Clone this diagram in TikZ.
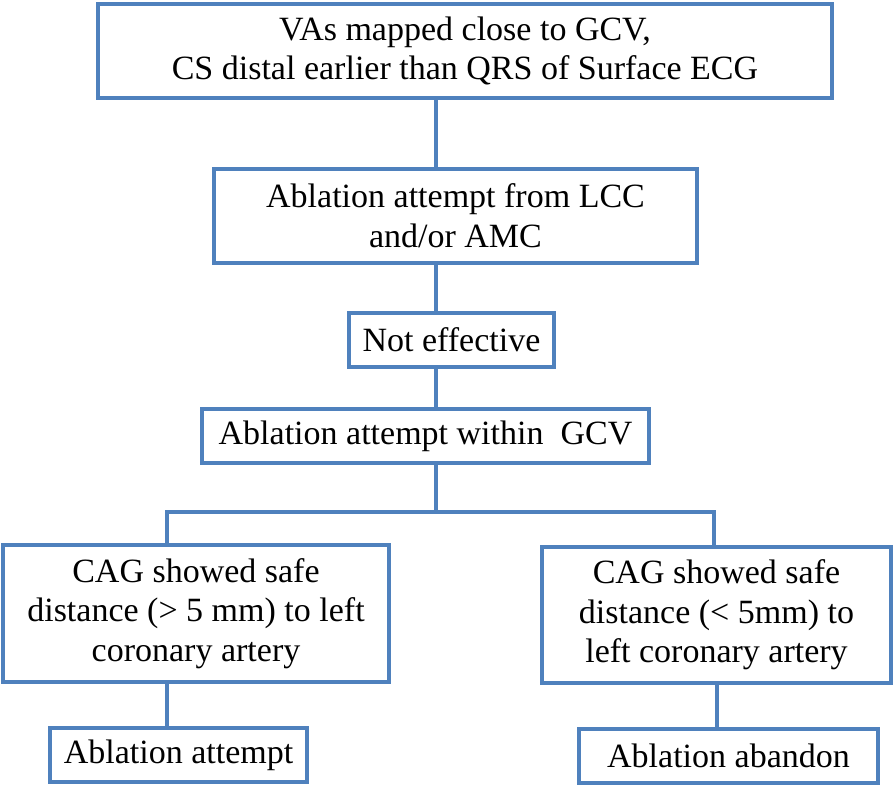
\documentclass[tikz,border=0pt]{standalone}
\usepackage{fontspec}
\setmainfont{Liberation Serif}
\definecolor{boxblue}{RGB}{79,129,189}
\begin{document}
\begin{tikzpicture}[x=1pt,y=-1pt,
  fbox/.style={draw=boxblue, line width=4pt, fill=white, inner sep=0pt, align=center,
    font=\fontsize{34}{39.5}\selectfont},
  link/.style={draw=boxblue, line width=4pt}]
\useasboundingbox (0,0) rectangle (894,788);
\node[fbox, minimum width=734pt, minimum height=94pt] (b1) at (465,51)
  {VAs mapped close to GCV,\\CS distal earlier than QRS of Surface ECG};
\node[fbox, minimum width=483pt, minimum height=94pt] (b2) at (455.5,215.5)
  {Ablation attempt from LCC\\and/or AMC};
\node[fbox, minimum width=205pt, minimum height=54pt] (b3) at (451.5,340)
  {Not effective};
\node[fbox, minimum width=447pt, minimum height=54pt] (b4) at (425.5,436)
  {Ablation attempt within\ \ GCV};
\node[fbox, minimum width=386pt, minimum height=137pt] (b5) at (196,613.5)
  {CAG showed safe\\distance (> 5 mm) to left\\coronary artery};
\node[fbox, minimum width=349pt, minimum height=136pt] (b6) at (716.5,615)
  {CAG showed safe\\distance (< 5mm) to\\left coronary artery};
\node[fbox, minimum width=257pt, minimum height=54pt] (b7) at (178.5,755)
  {Ablation attempt};
\node[fbox, minimum width=299pt, minimum height=54pt] (b8) at (728.5,756)
  {Ablation abandon};
\coordinate (cx) at (436,0);
\coordinate (lx) at (167,0);
\coordinate (rx) at (714,0);
\coordinate (rx2) at (717,0);
\coordinate (by) at (0,512);
\draw[link] (b1.south -| cx) -- (b2.north -| cx);
\draw[link] (b2.south -| cx) -- (b3.north -| cx);
\draw[link] (b3.south -| cx) -- (b4.north -| cx);
\draw[link] (b4.south -| cx) -- (cx |- by);
\draw[link] (b5.north -| lx) -- (lx |- by) -- (rx |- by) -- (b6.north -| rx);
\draw[link] (b5.south -| lx) -- (b7.north -| lx);
\draw[link] (b6.south -| rx2) -- (b8.north -| rx2);
\end{tikzpicture}
\end{document}
